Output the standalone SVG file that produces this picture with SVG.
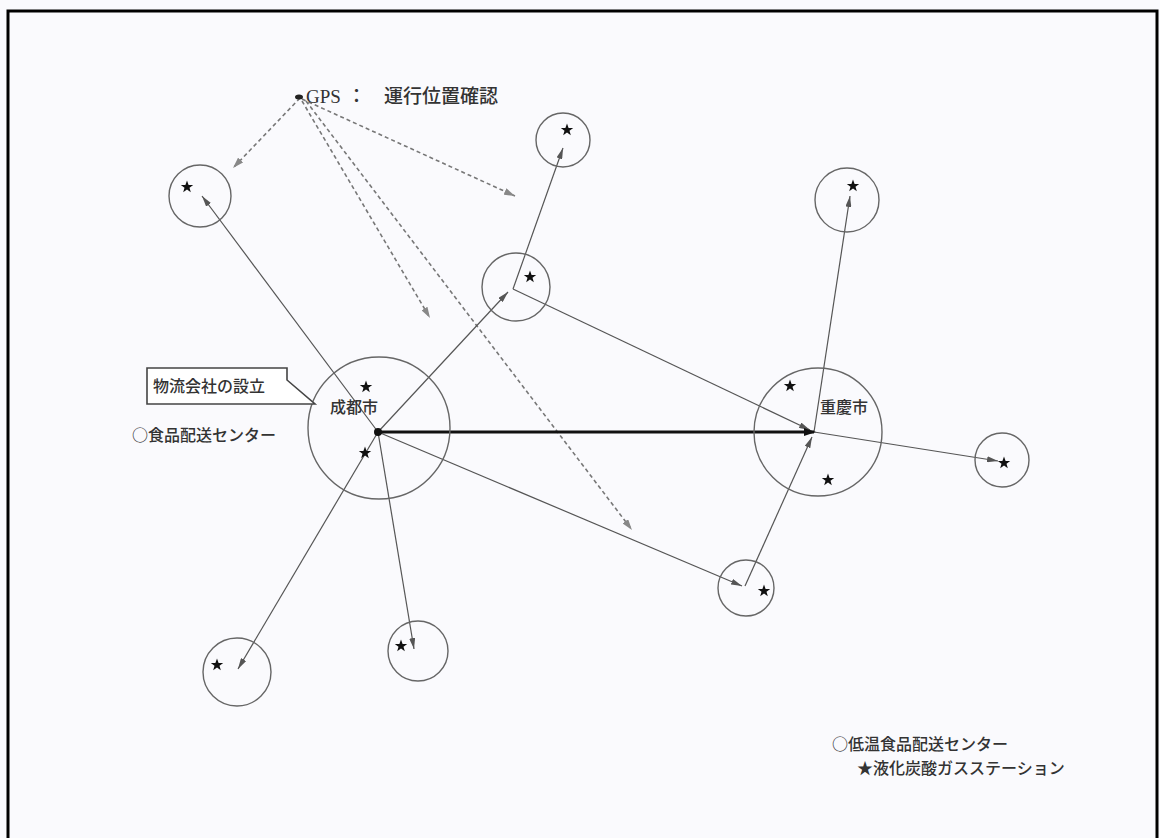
<svg xmlns="http://www.w3.org/2000/svg" width="1160" height="838" viewBox="0 0 1160 838">
<style>
.bg{fill:#fafafd}
.frame{fill:none;stroke:#000;stroke-width:3}
.ring{fill:none;stroke:#666;stroke-width:1.4}
.ln{fill:none;stroke:#555;stroke-width:1.2;marker-end:url(#ah)}
.dash{fill:none;stroke:#777;stroke-width:1.6;stroke-dasharray:4 3;marker-end:url(#ahd)}
.thick{fill:none;stroke:#111;stroke-width:3.2;marker-end:url(#aht)}
.t{font-family:"Noto Sans CJK JP","Liberation Serif",serif;fill:#333;font-size:16px;font-weight:500}
.tg{font-family:"Liberation Serif","Noto Sans CJK JP",serif;fill:#333;font-size:19px;font-weight:500}
.st{fill:#111}
</style>
<defs>
<marker id="ah" markerUnits="userSpaceOnUse" markerWidth="11" markerHeight="6" refX="11" refY="3" orient="auto"><path d="M0,0 L11,3 L0,6 Z" fill="#555"/></marker>
<marker id="ahd" markerUnits="userSpaceOnUse" markerWidth="11" markerHeight="7" refX="11" refY="3.5" orient="auto"><path d="M0,0 L11,3.5 L0,7 Z" fill="#888"/></marker>
<marker id="aht" markerUnits="userSpaceOnUse" markerWidth="12" markerHeight="8" refX="10" refY="4" orient="auto"><path d="M0,0 L12,4 L0,8 Z" fill="#111"/></marker>
<polygon id="star" points="0,-6.5 1.6,-2.1 6.2,-2 2.5,0.8 3.8,5.3 0,2.6 -3.8,5.3 -2.5,0.8 -6.2,-2 -1.6,-2.1"/>
</defs>
<rect class="bg" x="0" y="0" width="1160" height="838"/>
<path class="frame" d="M8,840 L8,11 L1157,11 L1157,840"/>

<g id="connectors">
<line class="dash" x1="300" y1="98" x2="233" y2="168"/>
<line class="dash" x1="302" y1="99" x2="515" y2="196"/>
<line class="dash" x1="302" y1="101" x2="430" y2="318"/>
<line class="dash" x1="306" y1="101" x2="632" y2="530"/>
<line class="ln" x1="378" y1="432" x2="202" y2="196"/>
<line class="ln" x1="378" y1="432" x2="508" y2="292"/>
<line class="ln" x1="513" y1="289" x2="563" y2="148"/>
<line class="ln" x1="513" y1="289" x2="810" y2="430"/>
<line class="ln" x1="814" y1="432" x2="850" y2="196"/>
<line class="ln" x1="814" y1="432" x2="998" y2="461"/>
<line class="ln" x1="745" y1="586" x2="812" y2="437"/>
<line class="ln" x1="378" y1="432" x2="742" y2="586"/>
<line class="ln" x1="378" y1="432" x2="238" y2="669"/>
<line class="ln" x1="378" y1="432" x2="414" y2="649"/>
<line class="thick" x1="378" y1="432" x2="814" y2="432"/>
<circle cx="378" cy="432" r="4" fill="#111"/>
<ellipse cx="299" cy="97" rx="4" ry="2.5" fill="#222"/>
</g>

<g id="gps"><text class="tg" x="306" y="103">GPS<tspan x="347">：</tspan><tspan x="384">運行位置確認</tspan></text></g>

<g id="chengdu">
<circle class="ring" cx="379" cy="428" r="71"/>
<use href="#star" class="st" x="366" y="387"/>
<use href="#star" class="st" x="365" y="453"/>
<text class="t" x="330" y="413" font-size="14">成都市</text>
</g>
<g id="chongqing">
<circle class="ring" cx="818" cy="432" r="64"/>
<use href="#star" class="st" x="790" y="386"/>
<use href="#star" class="st" x="828" y="480"/>
<text class="t" x="820" y="413" font-size="14">重慶市</text>
</g>
<g id="c1"><circle class="ring" cx="200" cy="196" r="31"/><use href="#star" class="st" x="187" y="187"/></g>
<g id="c2"><circle class="ring" cx="563" cy="140" r="27"/><use href="#star" class="st" x="567" y="130"/></g>
<g id="c3"><circle class="ring" cx="516" cy="287" r="34"/><use href="#star" class="st" x="530" y="277"/></g>
<g id="c4"><circle class="ring" cx="847" cy="200" r="32"/><use href="#star" class="st" x="853" y="186"/></g>
<g id="c5"><circle class="ring" cx="1002" cy="460" r="27"/><use href="#star" class="st" x="1004" y="463"/></g>
<g id="c6"><circle class="ring" cx="746" cy="588" r="28"/><use href="#star" class="st" x="764" y="591"/></g>
<g id="c7"><circle class="ring" cx="237" cy="672" r="34"/><use href="#star" class="st" x="217" y="665"/></g>
<g id="c8"><circle class="ring" cx="418" cy="651" r="30"/><use href="#star" class="st" x="401" y="646"/></g>

<g id="callout">
<path d="M147,368 L287,368 L287,380 L315,404 L147,404 Z" fill="#fff" stroke="#444" stroke-width="1.6"/>
<text class="t" x="153" y="392" font-size="17.5">物流会社の設立</text>
</g>
<g id="center-label"><text class="t" x="132" y="441">○食品配送センター</text></g>
<g id="legend">
<text class="t" x="832" y="750" font-size="16.5">○低温食品配送センター</text>
<text class="t" x="857" y="774" font-size="16">★液化炭酸ガスステーション</text>
</g>
</svg>
